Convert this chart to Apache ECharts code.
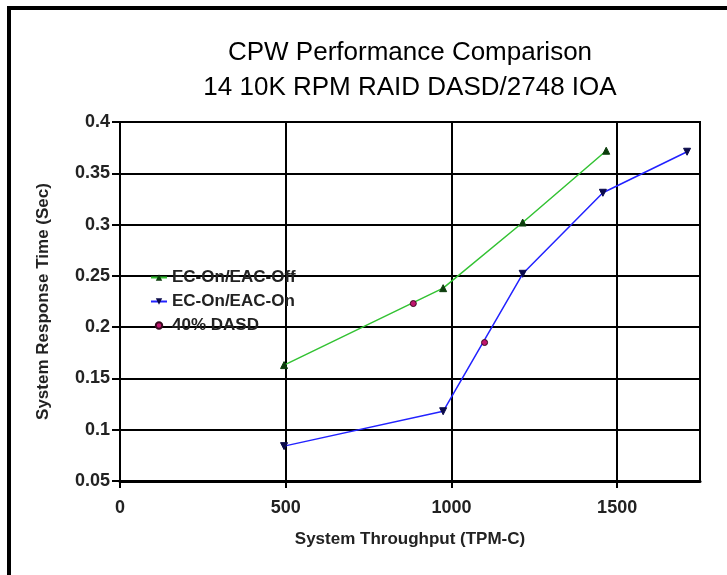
<!DOCTYPE html>
<html>
<head>
<meta charset="utf-8">
<title>CPW Performance Comparison</title>
<script src="https://cdn.jsdelivr.net/npm/echarts@6/dist/echarts.min.js"></script>
<style>
  html, body { margin: 0; padding: 0; background: #fff; }
  #chart { width: 727px; height: 575px; }
</style>
</head>
<body>
<div id="chart"></div>
<script>
// ========================================
// 数据
// ========================================
const seriesNames = ['EC-On/EAC-Off', 'EC-On/EAC-On', '40% DASD'];

const offX = [495, 975, 1215, 1467];
const offY = [0.163, 0.238, 0.302, 0.372];

const onX = [495, 975, 1215, 1457, 1711];
const onY = [0.084, 0.118, 0.252, 0.331, 0.371];

const dasdX = [885, 1100];
const dasdY = [0.223, 0.185];

const xTicks = [0, 500, 1000, 1500];

function pairs(xs, ys) {
  return xs.map((x, i) => [x, ys[i]]);
}

const fontFamily = '"Liberation Sans", Arial, Helvetica, sans-serif';

const chart = echarts.init(document.getElementById('chart'));

const option = {
  backgroundColor: '#fff',
  animation: false,
  title: {
    text: 'CPW Performance Comparison\n14 10K RPM RAID DASD/2748 IOA',
    left: 405,
    top: 30,
    textAlign: 'center',
    textStyle: {
      fontFamily: fontFamily,
      fontSize: 26,
      fontWeight: 'normal',
      color: '#000',
      lineHeight: 35
    }
  },
  legend: {
    orient: 'vertical',
    left: 145,
    top: 264,
    itemWidth: 16,
    itemHeight: 8,
    itemGap: 7,
    data: seriesNames,
    textStyle: {
      fontFamily: fontFamily,
      fontSize: 17,
      fontWeight: 'bold',
      color: '#222'
    }
  },
  grid: {
    left: 120,
    right: 27,
    top: 122,
    bottom: 94,
    show: true,
    borderColor: '#000',
    borderWidth: 2,
    backgroundColor: 'transparent'
  },
  xAxis: {
    type: 'value',
    min: 0,
    max: 1750,
    interval: 500,
    name: 'System Throughput (TPM-C)',
    nameLocation: 'middle',
    nameGap: 50,
    nameTextStyle: {
      fontFamily: fontFamily,
      fontSize: 17,
      fontWeight: 'bold',
      color: '#222'
    },
    axisLine: { show: true, lineStyle: { color: '#000', width: 3 } },
    axisTick: { show: true, length: 7, customValues: xTicks, lineStyle: { color: '#000', width: 2 } },
    axisLabel: {
      margin: 18,
      customValues: xTicks,
      fontFamily: fontFamily,
      fontSize: 18,
      fontWeight: 'bold',
      color: '#222',
      formatter: function (v) { return String(v); }
    },
    splitLine: { show: true, lineStyle: { color: '#000', width: 2 } }
  },
  yAxis: {
    type: 'value',
    min: 0.05,
    max: 0.4,
    interval: 0.05,
    name: 'System Response Time (Sec)',
    nameLocation: 'middle',
    nameGap: 68,
    nameTextStyle: {
      fontFamily: fontFamily,
      fontSize: 17,
      fontWeight: 'bold',
      color: '#222'
    },
    axisLine: { show: true, lineStyle: { color: '#000', width: 2 } },
    axisTick: { show: true, length: 8, lineStyle: { color: '#000', width: 2 } },
    axisLabel: {
      margin: 10,
      fontFamily: fontFamily,
      fontSize: 18,
      fontWeight: 'bold',
      color: '#222',
      formatter: function (v) { return String(+v.toFixed(2)); }
    },
    splitLine: { show: true, lineStyle: { color: '#000', width: 2 } }
  },
  graphic: [{
    // 外框
    type: 'rect',
    shape: { x: 9, y: 8, width: 800, height: 700 },
    style: { fill: 'none', stroke: '#000', lineWidth: 4 },
    silent: true
  }],
  series: [
    {
      name: seriesNames[0],
      type: 'line',
      data: pairs(offX, offY),
      symbol: 'triangle',
      symbolSize: 7,
      lineStyle: { color: '#33c233', width: 1.5 },
      itemStyle: { color: '#0c3d0c', borderColor: '#0c3d0c' },
      z: 3
    },
    {
      name: seriesNames[1],
      type: 'line',
      data: pairs(onX, onY),
      symbol: 'triangle',
      symbolRotate: 180,
      symbolSize: 7,
      lineStyle: { color: '#2222ff', width: 1.5 },
      itemStyle: { color: '#0a0a4a', borderColor: '#0a0a4a' },
      z: 3
    },
    {
      name: seriesNames[2],
      type: 'line',
      data: pairs(dasdX, dasdY),
      symbol: 'circle',
      symbolSize: 6,
      lineStyle: { width: 0, opacity: 0 },
      itemStyle: { color: '#c0166e', borderColor: '#3a0a20', borderWidth: 1 },
      z: 4
    }
  ]
};

chart.setOption(option);
</script>
</body>
</html>
